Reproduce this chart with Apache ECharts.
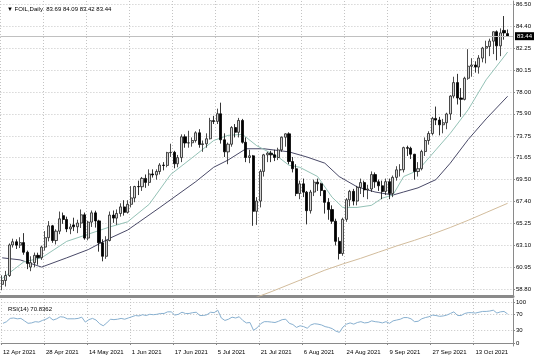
<!DOCTYPE html>
<html><head><meta charset="utf-8">
<script src="https://cdn.jsdelivr.net/npm/echarts@6/dist/echarts.min.js"></script>
<style>html,body{margin:0;padding:0;background:#fff}#c{width:536px;height:357px}</style>
</head><body><div id="c"></div>
<script>
const symbolName = 'FOIL,Daily';
const dates = ['12 Apr 2021','13 Apr 2021','14 Apr 2021','15 Apr 2021','16 Apr 2021','19 Apr 2021','20 Apr 2021','21 Apr 2021','22 Apr 2021','23 Apr 2021','26 Apr 2021','27 Apr 2021','28 Apr 2021','29 Apr 2021','30 Apr 2021',
'3 May 2021','4 May 2021','5 May 2021','6 May 2021','7 May 2021','10 May 2021','11 May 2021','12 May 2021','13 May 2021','14 May 2021','17 May 2021','18 May 2021','19 May 2021','20 May 2021','21 May 2021','24 May 2021','25 May 2021','26 May 2021','27 May 2021','28 May 2021','31 May 2021',
'1 Jun 2021','2 Jun 2021','3 Jun 2021','4 Jun 2021','7 Jun 2021','8 Jun 2021','9 Jun 2021','10 Jun 2021','11 Jun 2021','14 Jun 2021','15 Jun 2021','16 Jun 2021','17 Jun 2021','18 Jun 2021','21 Jun 2021','22 Jun 2021','23 Jun 2021','24 Jun 2021','25 Jun 2021','28 Jun 2021','29 Jun 2021','30 Jun 2021',
'1 Jul 2021','2 Jul 2021','5 Jul 2021','6 Jul 2021','7 Jul 2021','8 Jul 2021','9 Jul 2021','12 Jul 2021','13 Jul 2021','14 Jul 2021','15 Jul 2021','16 Jul 2021','19 Jul 2021','20 Jul 2021','21 Jul 2021','22 Jul 2021','23 Jul 2021','26 Jul 2021','27 Jul 2021','28 Jul 2021','29 Jul 2021','30 Jul 2021',
'2 Aug 2021','3 Aug 2021','4 Aug 2021','5 Aug 2021','6 Aug 2021','9 Aug 2021','10 Aug 2021','11 Aug 2021','12 Aug 2021','13 Aug 2021','16 Aug 2021','17 Aug 2021','18 Aug 2021','19 Aug 2021','20 Aug 2021','23 Aug 2021','24 Aug 2021','25 Aug 2021','26 Aug 2021','27 Aug 2021','30 Aug 2021','31 Aug 2021',
'1 Sep 2021','2 Sep 2021','3 Sep 2021','6 Sep 2021','7 Sep 2021','8 Sep 2021','9 Sep 2021','10 Sep 2021','13 Sep 2021','14 Sep 2021','15 Sep 2021','16 Sep 2021','17 Sep 2021','20 Sep 2021','21 Sep 2021','22 Sep 2021','23 Sep 2021','24 Sep 2021','27 Sep 2021','28 Sep 2021','29 Sep 2021','30 Sep 2021',
'1 Oct 2021','4 Oct 2021','5 Oct 2021','6 Oct 2021','7 Oct 2021','8 Oct 2021','11 Oct 2021','12 Oct 2021','13 Oct 2021','14 Oct 2021','15 Oct 2021','18 Oct 2021','19 Oct 2021','20 Oct 2021','21 Oct 2021','22 Oct 2021','25 Oct 2021','26 Oct 2021'];

const opens = [59.32,59.70,60.18,63.15,63.46,63.13,63.38,62.44,61.00,61.43,62.14,61.91,62.94,63.86,65.01,
63.58,64.49,66.00,65.63,64.71,65.10,64.92,65.28,66.08,63.82,65.37,66.27,65.49,63.36,62.05,63.58,66.05,65.76,66.21,66.85,66.32,
67.10,67.72,68.83,68.81,69.62,69.23,70.05,69.96,70.29,70.91,70.88,72.12,72.15,71.04,71.64,73.66,73.06,73.08,73.30,74.05,72.91,72.98,
73.47,75.23,75.16,75.90,73.37,72.20,72.94,74.56,74.10,75.25,73.13,71.65,71.81,66.42,67.42,70.30,71.91,72.07,71.91,71.65,72.39,73.62,
73.95,71.26,70.56,68.15,69.09,68.28,66.48,68.29,69.25,69.09,68.44,67.29,66.59,65.46,63.50,62.32,65.64,67.54,68.36,67.42,68.74,69.21,
68.50,68.59,69.99,69.29,68.90,68.35,69.30,68.14,69.72,70.45,70.46,72.61,72.55,71.97,70.29,70.56,72.23,73.30,73.98,75.45,75.29,74.83,
75.03,75.88,77.62,78.93,77.43,77.30,79.35,80.52,80.64,80.44,81.31,82.28,82.44,82.96,83.87,82.50,84.00,83.69];
const highs = [60.20,60.63,63.30,63.76,63.70,63.90,64.30,62.60,62.05,62.41,62.40,63.09,64.50,65.47,65.10,
64.67,66.40,66.30,65.90,65.20,65.80,65.60,66.60,66.30,65.50,66.50,66.48,65.60,63.70,64.00,66.40,66.50,66.60,67.20,67.50,67.50,
68.87,68.90,69.40,69.76,70.00,70.50,70.50,70.50,71.10,71.20,72.20,72.99,72.30,71.90,73.90,73.90,74.25,73.60,74.20,74.40,73.30,74.00,
75.50,75.70,76.40,76.98,74.00,73.10,74.70,74.90,75.50,75.40,73.60,72.40,71.90,67.80,70.50,72.00,72.20,72.30,72.40,72.60,73.70,74.00,
74.10,71.70,71.00,69.40,69.60,68.40,68.50,69.50,69.60,69.20,68.50,67.70,67.00,65.70,63.90,65.80,67.70,68.50,68.60,68.90,69.60,69.40,
69.00,70.30,70.20,69.50,69.40,69.60,69.60,69.90,70.80,71.00,72.70,72.80,72.70,72.00,71.20,72.40,73.60,74.20,75.60,76.60,75.60,75.40,
76.00,77.70,79.50,79.78,78.40,79.50,82.18,81.30,81.00,81.60,82.40,83.00,83.20,83.90,84.00,84.20,85.40,84.09];
const lows = [58.75,59.11,60.05,62.90,62.76,62.85,62.20,60.80,60.60,60.98,61.23,61.70,62.60,63.50,63.36,
63.20,64.20,65.20,64.40,64.20,64.50,64.30,64.80,63.66,63.60,64.90,64.84,62.50,61.56,61.80,63.50,65.30,65.10,65.90,66.00,66.20,
66.80,67.30,68.00,68.40,68.70,68.90,69.70,69.50,70.00,70.40,70.70,71.70,70.60,70.70,71.20,72.60,72.60,72.70,73.10,72.60,72.20,72.60,
73.40,74.90,74.90,73.00,71.70,71.00,72.70,73.60,73.60,73.00,71.20,71.10,65.01,65.10,66.80,69.80,71.20,71.20,71.30,71.40,72.20,72.70,
71.00,70.20,67.90,67.60,67.80,65.15,66.20,67.90,68.40,67.90,66.20,65.60,65.20,63.10,61.74,62.10,65.40,66.90,67.00,67.00,68.10,67.80,
67.60,68.30,68.70,68.40,67.60,68.00,67.60,67.80,69.40,69.80,70.20,71.80,71.50,69.50,69.80,70.40,71.80,72.90,73.80,74.80,73.80,74.00,
74.40,75.30,77.40,76.80,75.60,77.20,79.20,79.50,79.90,79.80,80.90,80.80,81.50,81.70,81.10,81.50,83.10,83.42];
const closes = [59.70,60.18,63.15,63.46,63.13,63.38,62.44,61.35,61.43,62.14,61.91,62.94,63.86,65.01,63.58,
64.49,65.69,65.63,64.71,64.90,64.92,65.28,66.08,63.82,65.37,66.27,65.49,63.36,62.05,63.58,66.05,65.76,66.21,66.85,66.32,67.10,
67.72,68.83,68.81,69.62,69.23,70.05,69.96,70.29,70.91,70.88,72.12,72.15,71.04,71.64,73.66,73.06,73.08,73.30,74.05,72.91,72.98,73.47,
75.23,75.16,75.90,73.37,72.20,72.94,74.56,74.10,75.25,73.13,71.65,71.81,66.42,67.42,70.30,71.91,72.07,71.91,71.65,72.39,73.62,73.95,
71.26,70.56,68.15,69.09,68.28,66.48,68.29,69.25,69.09,68.44,67.29,66.59,65.46,63.50,62.32,65.64,67.54,68.36,67.42,68.74,69.21,68.50,
68.59,69.99,69.29,68.90,68.35,69.30,68.14,69.72,70.45,70.46,72.61,72.55,71.97,70.29,70.56,72.23,73.30,73.98,75.45,75.29,74.83,75.03,
75.88,77.62,78.93,77.43,77.30,79.35,80.52,80.64,80.44,81.31,82.28,82.44,82.96,83.87,82.50,83.76,83.76,83.44];

// moving averages: [bar index, value]
const fastMA = [[0,59.9],[6,61.5],[11,61.9],[18,63.5],[24,64.2],[30,64.9],[35,65.4],[41,67.1],[47,70.0],[54,71.9],[59,73.3],[63,73.8],[67,73.9],[71,72.8],[77,71.7],[80,70.9],[83,70.7],[88,69.8],[92,67.8],[95,66.8],[99,66.8],[103,67.0],[106,67.7],[109,68.0],[112,69.8],[116,70.4],[121,72.4],[125,74.0],[130,76.3],[135,79.2],[141,81.9]];
const slowMA = [[0,61.9],[5,61.7],[11,61.0],[18,61.9],[24,62.7],[30,63.8],[35,64.6],[44,66.8],[54,69.3],[59,70.7],[63,71.4],[68,72.5],[73,72.5],[80,72.2],[85,71.7],[90,71.1],[94,69.8],[99,68.8],[104,68.3],[109,68.0],[112,68.3],[116,68.7],[121,69.5],[125,71.1],[130,73.4],[135,75.4],[141,77.6]];
const longMA = [[70,57.95],[75,58.6],[80,59.3],[85,60.0],[90,60.7],[95,61.3],[100,61.85],[105,62.45],[110,63.05],[115,63.6],[120,64.2],[125,64.85],[130,65.55],[135,66.3],[141,67.2]];

const rsi = [48,52,60,61,59,60,54,48,49,52,51,55,58,63,56,
59,64,63,59,59,59,60,63,51,57,60,56,47,42,49,58,57,58,60,58,61,
64,67,66,69,67,70,69,70,72,72,76,76,68,70,75,72,72,74,75,67,67,69,
75,74,80,61,55,58,63,61,64,55,49,50,31,37,47,52,52,51,50,53,57,58,
48,45,38,42,40,36,44,47,46,44,40,38,35,29,26,39,46,49,46,50,52,49,
50,54,52,51,49,52,48,54,56,58,62,62,59,52,53,59,62,64,68,67,65,66,
68,72,76,67,67,72,74,74,73,75,77,77,78,80,73,76,77,70.8362];

const priceTicks = [58.80,60.95,63.10,65.25,67.40,69.50,71.65,73.75,75.90,78.00,80.15,82.25,84.40,86.50];
const rsiTicks = [0,30,70,100];
const rsiPeriod = 14;

const n = dates.length;
const cats = dates.concat(['']);
const ohlc = dates.map((d,i)=>[opens[i],closes[i],lows[i],highs[i]]);
const lastO = opens[n-1], lastH = highs[n-1], lastL = lows[n-1], lastC = closes[n-1];
const FONT = 'Liberation Sans, Arial, sans-serif';
const gridDot = {color:'#c4c4c4', type:[1,2], width:1};
const vSplit = (i)=> i % 12 === 0 && i < n;

const chart = echarts.init(document.getElementById('c'), null, {renderer:'canvas'});
chart.setOption({
  animation:false,
  backgroundColor:'#ffffff',
  title:[
    {text:'\u25BC '+symbolName+'  '+[lastO,lastH,lastL,lastC].map(v=>v.toFixed(2)).join(' '), left:2, top:1,
     textStyle:{fontSize:6, fontWeight:'normal', color:'#000', fontFamily:FONT}},
    {text:'RSI('+rsiPeriod+') '+rsi[n-1].toFixed(4), left:3, top:301,
     textStyle:{fontSize:6, fontWeight:'normal', color:'#000', fontFamily:FONT}}
  ],
  grid:[
    {left:0.4, top:1, width:512.6, height:295, show:false},
    {left:0.4, top:299, width:512.6, height:47, show:false}
  ],
  xAxis:[
    {type:'category', gridIndex:0, data:cats, boundaryGap:true,
     axisLine:{show:true, lineStyle:{color:'#8a8a8a', width:3}}, axisTick:{show:false}, axisLabel:{show:false},
     splitLine:{show:true, interval:vSplit, lineStyle:gridDot}},
    {type:'category', gridIndex:1, data:cats, boundaryGap:true,
     axisLine:{show:true, lineStyle:{color:'#8a8a8a', width:1}},
     axisTick:{show:true, interval:vSplit, length:2, lineStyle:{color:'#8a8a8a'}},
     axisLabel:{show:true, interval:vSplit, align:'left', fontSize:6, color:'#000', margin:3, fontFamily:FONT},
     splitLine:{show:true, interval:vSplit, lineStyle:gridDot}}
  ],
  yAxis:[
    {type:'value', gridIndex:0, position:'right', min:58.19, max:86.86, scale:true,
     axisLine:{show:true, lineStyle:{color:'#8a8a8a'}},
     axisTick:{show:true, length:2, customValues:priceTicks, lineStyle:{color:'#8a8a8a'}},
     axisLabel:{customValues:priceTicks, formatter:(v)=>v.toFixed(2), fontSize:6, color:'#000', margin:3, fontFamily:FONT},
     splitLine:{show:true, lineStyle:gridDot}},
    {type:'value', gridIndex:1, position:'right', min:-7.3, max:107.3,
     axisLine:{show:true, lineStyle:{color:'#8a8a8a'}},
     axisTick:{show:true, length:2, customValues:rsiTicks, lineStyle:{color:'#8a8a8a'}},
     axisLabel:{customValues:rsiTicks, fontSize:6, color:'#000', margin:3, fontFamily:FONT},
     splitLine:{show:true, lineStyle:gridDot}}
  ],
  series:[
    {type:'line', xAxisIndex:0, yAxisIndex:0, data:longMA, showSymbol:false, lineStyle:{color:'#d2bc9c', width:1}, z:2},
    {type:'line', xAxisIndex:0, yAxisIndex:0, data:slowMA, showSymbol:false, lineStyle:{color:'#4a4a68', width:1}, z:2},
    {type:'line', xAxisIndex:0, yAxisIndex:0, data:fastMA, showSymbol:false, lineStyle:{color:'#94c2b6', width:1}, z:2},
    {type:'candlestick', xAxisIndex:0, yAxisIndex:0, data:ohlc, barWidth:2.6, z:3,
     itemStyle:{color:'#d4d4d4', color0:'#000000', borderColor:'#202020', borderColor0:'#000000', borderWidth:0.8},
     markLine:{symbol:'none', silent:true, animation:false,
       lineStyle:{color:'#c0c0c0', type:'solid', width:1},
       label:{show:true, position:'end', formatter:()=>lastC.toFixed(2), backgroundColor:'#000', color:'#fff',
              fontSize:6, padding:[1,2,1,2], distance:2, fontFamily:FONT},
       data:[{yAxis:lastC}]}},
    {type:'line', xAxisIndex:1, yAxisIndex:1, data:rsi, showSymbol:false, lineStyle:{color:'#88b0d0', width:1}}
  ]
});
</script></body></html>
